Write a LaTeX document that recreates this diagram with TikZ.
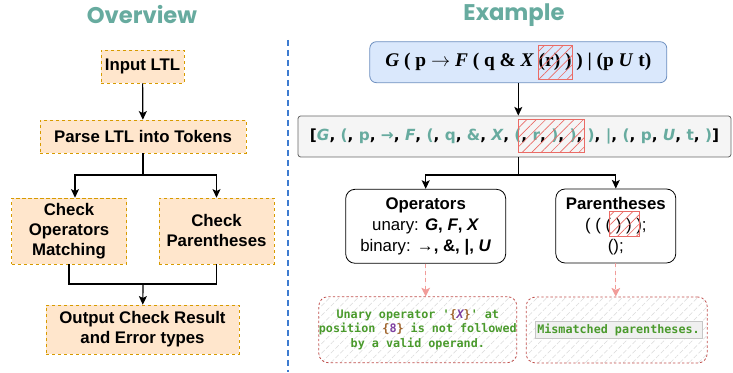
\documentclass[tikz,border=0pt]{standalone}
\usepackage{fontspec}
\setmainfont{Liberation Sans}
\newfontfamily\titlefont{Poppins}
\newfontfamily\formfont{Liberation Serif}
\newfontfamily\tokfont{DejaVu Sans}
\newfontfamily\codefont{DejaVu Sans Mono}
\usetikzlibrary{arrows.meta,patterns.meta,positioning}

\definecolor{titlecol}{HTML}{67AB9F}
\definecolor{orangefill}{HTML}{FFE6CC}
\definecolor{orangeline}{HTML}{D79B00}
\definecolor{bluefill}{HTML}{DAE8FC}
\definecolor{blueline}{HTML}{6C8EBF}
\definecolor{grayfill}{HTML}{F5F5F5}
\definecolor{grayline}{HTML}{666666}
\definecolor{hatchred}{HTML}{EA6B66}
\definecolor{errline}{HTML}{C0504D}
\definecolor{errarrow}{HTML}{F19C99}
\definecolor{divcol}{HTML}{3D7BD0}
\definecolor{codegreen}{HTML}{4A9A2C}
\definecolor{codebrown}{HTML}{A0642C}
\definecolor{codepurple}{HTML}{7E3FA0}

\newlength\px
\setlength\px{0.75pt}
\newcommand{\tk}[1]{\textcolor{titlecol}{#1}}
\newcommand{\br}[1]{\textcolor{codebrown}{#1}}

\tikzset{
  titlelabel/.style={font=\titlefont\bfseries\fontsize{17}{20}\selectfont, text=titlecol},
  stepbox/.style={draw=orangeline, fill=orangefill, dash pattern=on 2.5pt off 2pt,
    align=center, inner sep=0pt, font=\bfseries\fontsize{12.6}{15}\selectfont},
  arr/.style={-{Stealth[length=6.5pt,width=6pt,inset=1.5pt]}, line width=0.9pt},
  line/.style={line width=0.9pt},
  hatch/.style={draw=hatchred, inner sep=0pt, pattern={Lines[angle=45,distance=5pt,line width=0.5pt]},
    pattern color=hatchred},
  checkbox/.style={draw=black, rounded corners=7pt, fill=white, align=center, line width=0.6pt,
    inner sep=0pt, font=\fontsize{12.6}{15.8}\selectfont},
  errbox/.style={draw=errline, rounded corners=7pt, dash pattern=on 1.8pt off 1.6pt, line width=0.6pt,
    pattern={Lines[angle=45,distance=5pt,line width=0.4pt]}, pattern color=gray!30,
    align=center, inner sep=0pt, text=codegreen, font=\codefont\bfseries\fontsize{8.8}{11}\selectfont},
  errarr/.style={-{Stealth[length=6.5pt,width=6.5pt,inset=1.5pt]}, draw=errarrow, fill=errarrow,
    line width=0.9pt, dash pattern=on 3pt off 2.5pt}
}

\begin{document}
\begin{tikzpicture}[x=0.75pt, y=-0.75pt]
\useasboundingbox (0,0) rectangle (733,373);

% overview
\node[titlelabel] (ovtitle) at (142,15) {Overview};
\node[stepbox, minimum width=83\px, minimum height=33\px] (input) at (142.5,66.5) {Input LTL};
\node[stepbox, minimum width=206\px, minimum height=33\px] (parse) at (143,136.5) {Parse LTL into Tokens};
\node[stepbox, minimum width=115\px, minimum height=66\px] (ops) at (69,231) {Check\\Operators\\Matching};
\node[stepbox, minimum width=115\px, minimum height=66\px] (par) at (216.5,231) {Check\\Parentheses};
\node[stepbox, minimum width=193\px, minimum height=49\px] (out) at (142.5,329.5) {Output Check Result\\and Error types};

\coordinate (split) at (143,175);
\coordinate (merge) at (143,284);
\draw[arr] (input) -- (parse);
\draw[line] (parse) -- (split);
\draw[arr] (split) -| ([xshift=6\px]ops.north);
\draw[arr] (split) -| (par.north);
\draw[line] (ops.south) |- (merge);
\draw[line] (par.south) |- (merge);
\draw[arr] (merge) -- (out);

% divider
\draw[divcol, line width=1.5pt, dash pattern=on 4.5pt off 3pt] (288,40) -- (288,372);

% example
\node[titlelabel] (extitle) at (514,15) {Example};
\node[draw=blueline, fill=bluefill, rounded corners=5pt, line width=0.6pt,
  minimum width=297\px, minimum height=41\px,
  font=\formfont\bfseries\fontsize{14.5}{17}\selectfont] (formula) at (518.3,62.2)
  {\textit{G} ( p $\rightarrow$ \textit{F} ( q \& \textit{X} (r) ) ) | (p \textit{U} t)};
\node[hatch, minimum width=34\px, minimum height=33.3\px] (hatchf) at (555.7,62.3) {};

\node[draw=grayline, fill=grayfill, rounded corners=2pt, line width=0.6pt,
  minimum width=433\px, minimum height=41\px,
  font=\tokfont\bfseries\fontsize{11.5}{14}\selectfont] (tokens) at (514.5,136.5)
  {[\tk{\itshape G}, \tk{(}, \tk{p}, \tk{→}, \tk{\itshape F}, \tk{(}, \tk{q}, \tk{\&}, \tk{\itshape X}, \tk{(}, \tk{r}, \tk{)}, \tk{)}, \tk{)}, \tk{|}, \tk{(}, \tk{p}, \tk{\itshape U}, \tk{t}, \tk{)}]};
\node[hatch, minimum width=66\px, minimum height=33.4\px] (hatcht) at (551.3,136) {};

\node[checkbox, minimum width=160\px, minimum height=74\px] (opcheck) at (425.7,226.3)
  {\textbf{Operators}\\unary: \textbf{\textit{G}, \textit{F}, \textit{X}}\\binary: →\textbf{, \&, |, \textit{U}}};
\node[checkbox, minimum width=120\px, minimum height=74\px] (parcheck) at (615.8,226)
  {\textbf{Parentheses}\\( ( ( ) ) );\\();};
\node[hatch, minimum width=29.7\px, minimum height=25\px] (hatchp) at (624.2,224.2) {};

\node[errbox, minimum width=198\px, minimum height=66\px] (operr) at (417.8,329.7)
  {Unary operator \textquotesingle\br{\{}\textcolor{codepurple}{\itshape X}\br{\}}\textquotesingle{} at\\
   position \br{\{}\textcolor{codepurple}{8}\br{\}} is not followed\\
   by a valid operand.};
\node[errbox, minimum width=181\px, minimum height=66\px] (parerr) at (616.7,330) {};
\node[fill=gray!12, draw=gray!45, line width=0.4pt, minimum width=167\px, minimum height=16.3\px,
  inner sep=0pt, text=codegreen, font=\codefont\bfseries\fontsize{8.8}{11}\selectfont]
  (msg) at (618.5,329.8) {Mismatched parentheses.};

\coordinate (split2) at (518.3,175);
\draw[arr] (formula.south) -- (formula.south |- tokens.north);
\draw[line] (formula.south |- tokens.south) -- (split2);
\draw[arr] (split2) -| (opcheck.north);
\draw[arr] (split2) -| (parcheck.north);
\draw[errarr] (opcheck.south) -- (opcheck.south |- operr.north);
\draw[errarr] (parcheck.south) -- (parcheck.south |- parerr.north);
\end{tikzpicture}
\end{document}
